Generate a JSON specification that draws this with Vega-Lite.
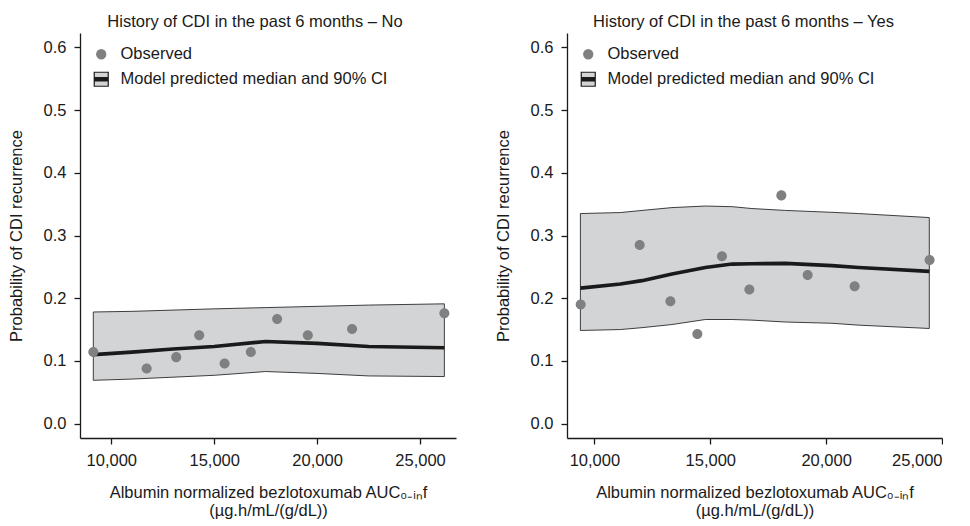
{
  "$schema": "https://vega.github.io/schema/vega-lite/v6.json",
  "padding": {"left": 8, "top": 13, "right": 0, "bottom": 0},
  "spacing": 39,
  "background": "white",
  "config": {
    "view": {"stroke": null},
    "font": "Liberation Sans",
    "axis": {
      "labelFont": "Liberation Sans", "labelFontSize": 16.5, "labelColor": "#1a1a1a",
      "titleFont": "Liberation Sans", "titleFontSize": 16.5, "titleFontWeight": "normal", "titleColor": "#1a1a1a",
      "domainColor": "#1a1a1a", "domainWidth": 1.3, "tickColor": "#1a1a1a", "tickWidth": 1.3, "tickSize": 6,
      "grid": false, "labelPadding": 8
    },
    "legend": {"labelFont": "Liberation Sans", "labelFontSize": 16.5, "labelColor": "#1a1a1a", "labelLimit": 400},
    "title": {"font": "Liberation Sans", "fontSize": 16.5, "fontWeight": "normal", "color": "#1a1a1a"}
  },
  "datasets": {
    "obsNo": [
      {"auc": 9127, "p": 0.114}, {"auc": 11719, "p": 0.088}, {"auc": 13156, "p": 0.106},
      {"auc": 14272, "p": 0.141}, {"auc": 15505, "p": 0.096}, {"auc": 16781, "p": 0.114},
      {"auc": 18058, "p": 0.167}, {"auc": 19548, "p": 0.141}, {"auc": 21699, "p": 0.151},
      {"auc": 26183, "p": 0.176}
    ],
    "modNo": [
      {"auc": 9127, "lo": 0.069, "med": 0.110, "hi": 0.178},
      {"auc": 11000, "lo": 0.071, "med": 0.114, "hi": 0.179},
      {"auc": 13000, "lo": 0.074, "med": 0.119, "hi": 0.181},
      {"auc": 15000, "lo": 0.077, "med": 0.123, "hi": 0.183},
      {"auc": 17500, "lo": 0.083, "med": 0.131, "hi": 0.185},
      {"auc": 20000, "lo": 0.080, "med": 0.128, "hi": 0.187},
      {"auc": 22500, "lo": 0.076, "med": 0.123, "hi": 0.189},
      {"auc": 26183, "lo": 0.075, "med": 0.121, "hi": 0.191}
    ],
    "obsYes": [
      {"auc": 9409, "p": 0.190}, {"auc": 11954, "p": 0.285}, {"auc": 13279, "p": 0.195},
      {"auc": 14443, "p": 0.143}, {"auc": 15505, "p": 0.267}, {"auc": 16687, "p": 0.214},
      {"auc": 18067, "p": 0.364}, {"auc": 19202, "p": 0.237}, {"auc": 21229, "p": 0.219},
      {"auc": 24465, "p": 0.261}
    ],
    "modYes": [
      {"auc": 9396, "lo": 0.1485, "med": 0.216, "hi": 0.335},
      {"auc": 11121, "lo": 0.150, "med": 0.2226, "hi": 0.3366},
      {"auc": 12054, "lo": 0.153, "med": 0.228, "hi": 0.340},
      {"auc": 13348, "lo": 0.158, "med": 0.2385, "hi": 0.3445},
      {"auc": 14788, "lo": 0.166, "med": 0.249, "hi": 0.347},
      {"auc": 15937, "lo": 0.166, "med": 0.2544, "hi": 0.346},
      {"auc": 16800, "lo": 0.165, "med": 0.255, "hi": 0.343},
      {"auc": 18240, "lo": 0.162, "med": 0.2555, "hi": 0.340},
      {"auc": 20250, "lo": 0.160, "med": 0.252, "hi": 0.337},
      {"auc": 21402, "lo": 0.157, "med": 0.249, "hi": 0.335},
      {"auc": 24452, "lo": 0.1517, "med": 0.2428, "hi": 0.3286}
    ]
  },
  "resolve": {"scale": {"x": "independent", "y": "independent", "shape": "independent", "color": "independent", "stroke": "independent"}, "legend": {"shape": "independent", "color": "independent", "stroke": "independent"}},
  "hconcat": [
    {
      "width": 376, "height": 405,
      "title": {"text": "History of CDI in the past 6 months – No", "anchor": "middle", "dx": -13, "offset": 3},
      "layer": [
        {
          "data": {"name": "modNo"},
          "mark": {"type": "area", "fill": "#d3d4d6", "stroke": "#2a2a2a", "strokeWidth": 0.9},
          "encoding": {
            "x": {"field": "auc", "type": "quantitative", "scale": {"domain": [8481, 26748], "nice": false, "zero": false},
              "axis": {"values": [10000, 15000, 20000, 25000], "format": ",.0f", "title": ["Albumin normalized bezlotoxumab AUC₀₋ᵢₙf", "(µg.h/mL/(g/dL))"], "titlePadding": 16, "titleLineHeight": 18}},
            "y": {"field": "lo", "type": "quantitative", "scale": {"domain": [-0.023, 0.623], "nice": false, "zero": false},
              "axis": {"values": [0, 0.1, 0.2, 0.3, 0.4, 0.5, 0.6], "format": ".1f", "title": "Probability of CDI recurrence", "titlePadding": 19}},
            "y2": {"field": "hi"}
          }
        },
        {
          "data": {"name": "modNo"},
          "mark": {"type": "line", "color": "#1a1a1a", "strokeWidth": 3.6},
          "encoding": {"x": {"field": "auc", "type": "quantitative"}, "y": {"field": "med", "type": "quantitative"}}
        },
        {
          "data": {"name": "obsNo"},
          "mark": {"type": "point", "filled": true, "opacity": 1, "size": 237, "strokeWidth": 0},
          "encoding": {
            "x": {"field": "auc", "type": "quantitative"},
            "y": {"field": "p", "type": "quantitative"},
            "shape": {"datum": "Observed",
              "scale": {"domain": ["Observed", "Model predicted median and 90% CI"],
                "range": ["M0,-0.65A0.65,0.65,0,1,1,0,0.65A0.65,0.65,0,1,1,0,-0.65Z", "M-1,-1H1V1H-1Z M-1,-0.22H1 M-1,-0.11H1 M-1,0H1 M-1,0.11H1 M-1,0.22H1"]},
              "legend": {"title": null, "orient": "top-left", "offset": 13, "symbolSize": 196, "labelOffset": 11, "rowPadding": 6, "symbolStrokeWidth": 1.2}},
            "color": {"datum": "Observed",
              "scale": {"domain": ["Observed", "Model predicted median and 90% CI"], "range": ["#808080", "#d3d4d6"]},
              "legend": {"title": null, "orient": "top-left", "offset": 13, "symbolSize": 196, "labelOffset": 11, "rowPadding": 6, "symbolStrokeWidth": 1.2}},
            "stroke": {"datum": "Observed",
              "scale": {"domain": ["Observed", "Model predicted median and 90% CI"], "range": ["#808080", "#1a1a1a"]},
              "legend": {"title": null, "orient": "top-left", "offset": 13, "symbolSize": 196, "labelOffset": 11, "rowPadding": 6, "symbolStrokeWidth": 1.2}}
          }
        }
      ]
    },
    {
      "width": 375, "height": 405,
      "title": {"text": "History of CDI in the past 6 months – Yes", "anchor": "middle", "dx": -11, "offset": 3},
      "layer": [
        {
          "data": {"name": "modYes"},
          "mark": {"type": "area", "fill": "#d3d4d6", "stroke": "#2a2a2a", "strokeWidth": 0.9},
          "encoding": {
            "x": {"field": "auc", "type": "quantitative", "scale": {"domain": [8818, 25000], "nice": false, "zero": false},
              "axis": {"values": [10000, 15000, 20000, 25000], "format": ",.0f", "title": ["Albumin normalized bezlotoxumab AUC₀₋ᵢₙf", "(µg.h/mL/(g/dL))"], "titlePadding": 16, "titleLineHeight": 18}},
            "y": {"field": "lo", "type": "quantitative", "scale": {"domain": [-0.023, 0.623], "nice": false, "zero": false},
              "axis": {"values": [0, 0.1, 0.2, 0.3, 0.4, 0.5, 0.6], "format": ".1f", "title": "Probability of CDI recurrence", "titlePadding": 19}},
            "y2": {"field": "hi"}
          }
        },
        {
          "data": {"name": "modYes"},
          "mark": {"type": "line", "color": "#1a1a1a", "strokeWidth": 3.6},
          "encoding": {"x": {"field": "auc", "type": "quantitative"}, "y": {"field": "med", "type": "quantitative"}}
        },
        {
          "data": {"name": "obsYes"},
          "mark": {"type": "point", "filled": true, "opacity": 1, "size": 237, "strokeWidth": 0},
          "encoding": {
            "x": {"field": "auc", "type": "quantitative"},
            "y": {"field": "p", "type": "quantitative"},
            "shape": {"datum": "Observed",
              "scale": {"domain": ["Observed", "Model predicted median and 90% CI"],
                "range": ["M0,-0.65A0.65,0.65,0,1,1,0,0.65A0.65,0.65,0,1,1,0,-0.65Z", "M-1,-1H1V1H-1Z M-1,-0.22H1 M-1,-0.11H1 M-1,0H1 M-1,0.11H1 M-1,0.22H1"]},
              "legend": {"title": null, "orient": "top-left", "offset": 13, "symbolSize": 196, "labelOffset": 11, "rowPadding": 6, "symbolStrokeWidth": 1.2}},
            "color": {"datum": "Observed",
              "scale": {"domain": ["Observed", "Model predicted median and 90% CI"], "range": ["#808080", "#d3d4d6"]},
              "legend": {"title": null, "orient": "top-left", "offset": 13, "symbolSize": 196, "labelOffset": 11, "rowPadding": 6, "symbolStrokeWidth": 1.2}},
            "stroke": {"datum": "Observed",
              "scale": {"domain": ["Observed", "Model predicted median and 90% CI"], "range": ["#808080", "#1a1a1a"]},
              "legend": {"title": null, "orient": "top-left", "offset": 13, "symbolSize": 196, "labelOffset": 11, "rowPadding": 6, "symbolStrokeWidth": 1.2}}
          }
        }
      ]
    }
  ]
}
